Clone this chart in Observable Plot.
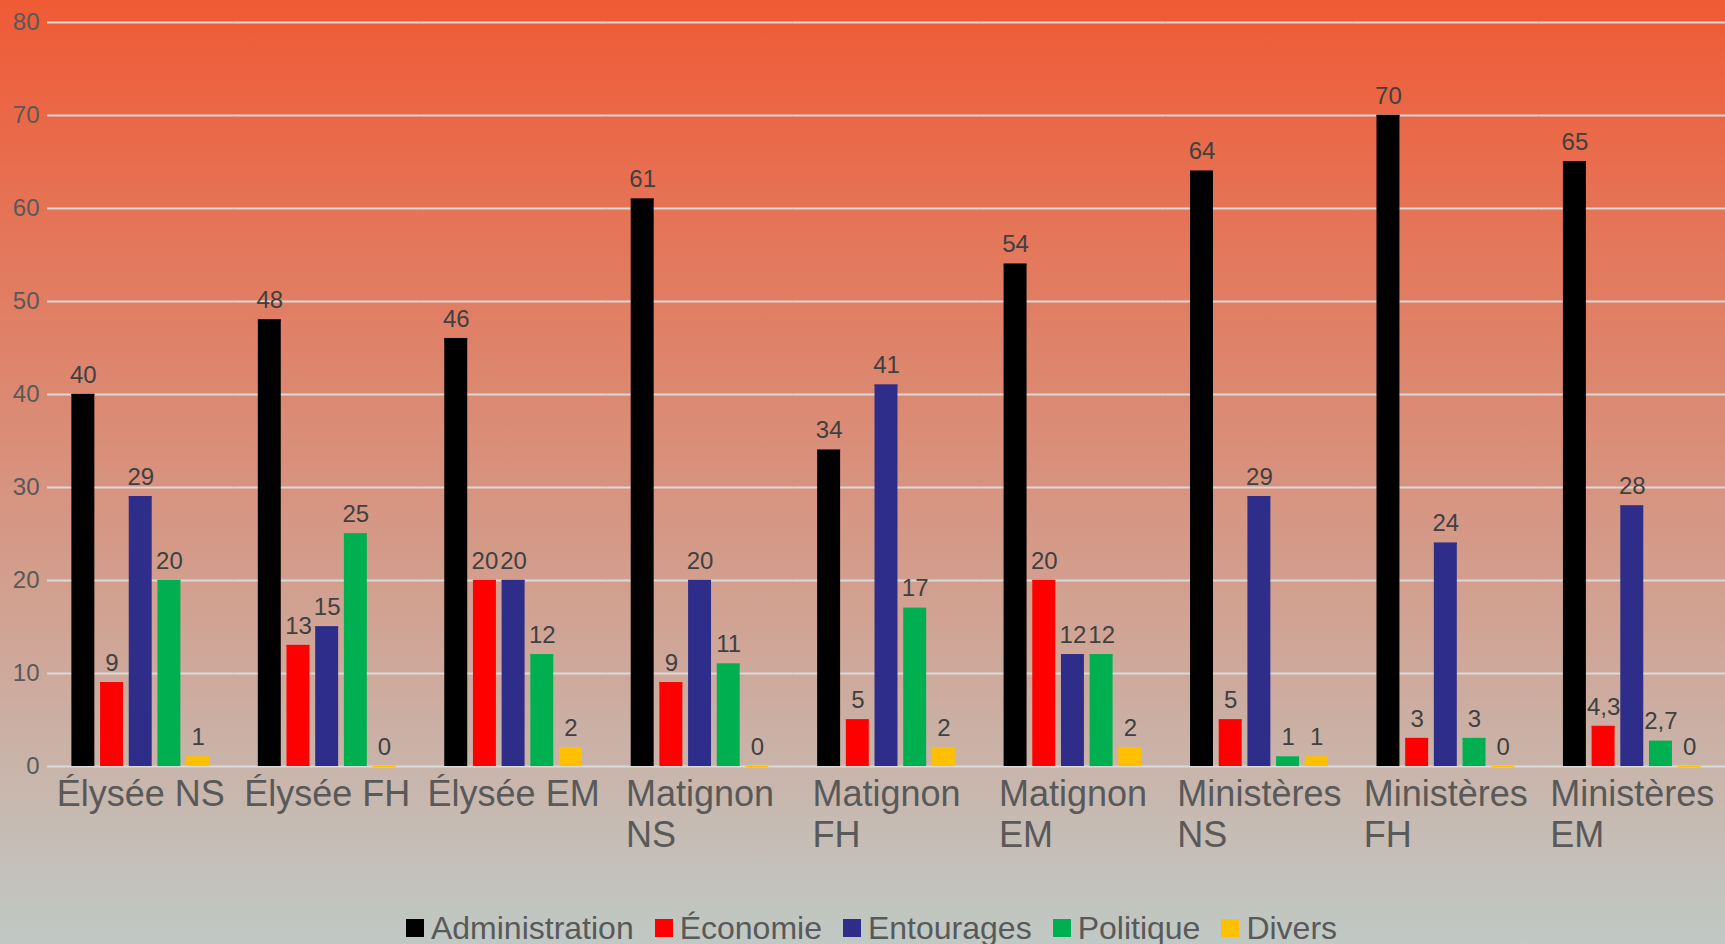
<!DOCTYPE html>
<html>
<head>
<meta charset="utf-8">
<script src="https://cdn.jsdelivr.net/npm/d3@7"></script>
<script src="https://cdn.jsdelivr.net/npm/@observablehq/plot@0.6"></script>
<style>
  html, body { margin: 0; padding: 0; }
  body {
    width: 1725px; height: 944px; overflow: hidden;
    background: linear-gradient(to bottom, #F05A35 0%, #C0C9C5 100%);
    font-family: "Liberation Sans", Arial, sans-serif;
  }
  #legend {
    display: flex; justify-content: center; align-items: center;
    height: 38px; font-size: 32px; color: #595959;
    padding-left: 18px;
  }
  #legend .item { display: flex; align-items: center; margin: 0 10.5px; }
  #legend .sw { width: 18px; height: 18px; margin-right: 7px; }
</style>
</head>
<body>
<div id="chart"></div>
<div id="legend"></div>
<script>
const categories = ["Élysée NS", "Élysée FH", "Élysée EM", "Matignon NS", "Matignon FH", "Matignon EM", "Ministères NS", "Ministères FH", "Ministères EM"];
const categoryLabels = ["Élysée NS", "Élysée FH", "Élysée EM", "Matignon\nNS", "Matignon\nFH", "Matignon\nEM", "Ministères\nNS", "Ministères\nFH", "Ministères\nEM"];
const seriesNames = ["Administration", "Économie", "Entourages", "Politique", "Divers"];
const seriesColors = ["#000000", "#FF0000", "#2E2D8A", "#00B050", "#FFC000"];
const administration = [40, 48, 46, 61, 34, 54, 64, 70, 65];
const economie = [9, 13, 20, 9, 5, 20, 5, 3, 4.3];
const entourages = [29, 15, 20, 20, 41, 12, 29, 24, 28];
const politique = [20, 25, 12, 11, 17, 12, 1, 3, 2.7];
const divers = [1, 0, 2, 0, 2, 2, 1, 0, 0];
const yTicks = [0, 10, 20, 30, 40, 50, 60, 70, 80];

const seriesValues = [administration, economie, entourages, politique, divers];
const data = [];
categories.forEach((c, i) => {
  seriesNames.forEach((s, j) => {
    data.push({cat: c, series: s, value: seriesValues[j][i]});
  });
});
const labelOf = new Map(categories.map((c, i) => [c, categoryLabels[i]]));
const fmt = v => String(v).replace(".", ",");

const chart = Plot.plot({
  width: 1725,
  height: 909,
  marginLeft: 47,
  marginRight: 0,
  marginTop: 22,
  marginBottom: 143,
  style: {background: "transparent", fontFamily: "'Liberation Sans', Arial, sans-serif", overflow: "visible"},
  fx: {domain: categories, padding: 0, round: false, axis: null, label: null},
  x: {domain: seriesNames, paddingInner: 0.2, paddingOuter: 0.85, round: false, axis: null, label: null},
  y: {domain: [0, 80], axis: null, label: null},
  color: {domain: seriesNames, range: seriesColors},
  marks: [
    Plot.gridY(yTicks, {stroke: "#D9D9D9", strokeOpacity: 1, strokeWidth: 2}),
    Plot.axisY(yTicks, {tickSize: 0, tickPadding: 8, fontSize: 24, fill: "#595959", label: null}),
    Plot.barY(data, {fx: "cat", x: "series", y: "value", fill: "series"}),
    Plot.tickY(data, {fx: "cat", x: "series", y: "value", stroke: "series", strokeWidth: 1.5}),
    Plot.text(data, {fx: "cat", x: "series", y: "value", text: d => fmt(d.value), dy: -12, lineAnchor: "bottom", fontSize: 24, fill: "#404040"}),
    Plot.axisFx({anchor: "bottom", tickSize: 0, tickPadding: 10, fontSize: 36, lineHeight: 1.15, fill: "#595959", label: null, tickFormat: c => labelOf.get(c)})
  ]
});
document.getElementById("chart").appendChild(chart);

// left-align the wrapped second line with the first line (Excel-style wrapping)
chart.querySelectorAll("text").forEach(t => {
  const spans = t.querySelectorAll("tspan");
  if (spans.length === 2) {
    const w = Math.max(spans[0].getComputedTextLength(), spans[1].getComputedTextLength());
    t.setAttribute("text-anchor", "start");
    spans.forEach(s => s.setAttribute("x", -w / 2));
  }
});

const legend = document.getElementById("legend");
seriesNames.forEach((s, i) => {
  const item = document.createElement("div");
  item.className = "item";
  const sw = document.createElement("div");
  sw.className = "sw";
  sw.style.background = seriesColors[i];
  const lab = document.createElement("span");
  lab.textContent = s;
  item.appendChild(sw);
  item.appendChild(lab);
  legend.appendChild(item);
});
</script>
</body>
</html>
